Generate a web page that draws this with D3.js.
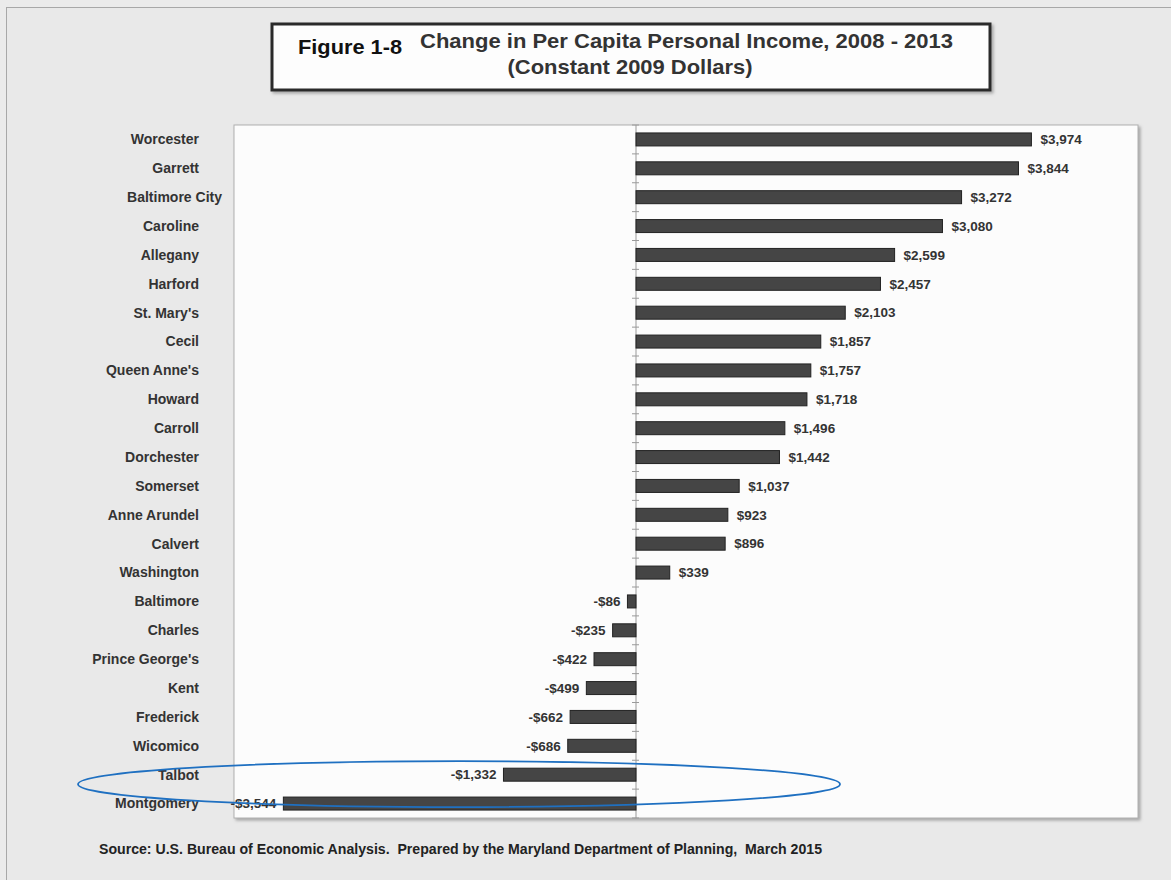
<!DOCTYPE html>
<html>
<head>
<meta charset="utf-8">
<script src="https://cdn.jsdelivr.net/npm/d3@7"></script>
<style>
  body { margin: 0; background: #ebebeb; }
  svg { display: block; }
</style>
</head>
<body>
<div id="chart"></div>
<script>
var counties = ["Worcester", "Garrett", "Baltimore City", "Caroline", "Allegany", "Harford",
  "St. Mary's", "Cecil", "Queen Anne's", "Howard", "Carroll", "Dorchester", "Somerset",
  "Anne Arundel", "Calvert", "Washington", "Baltimore", "Charles", "Prince George's",
  "Kent", "Frederick", "Wicomico", "Talbot", "Montgomery"];
var change = [3974, 3844, 3272, 3080, 2599, 2457, 2103, 1857, 1757, 1718, 1496, 1442, 1037,
  923, 896, 339, -86, -235, -422, -499, -662, -686, -1332, -3544];
var xDomain = [-4000, 5000];

var width = 1171,
    height = 880;

var plot = {left: 234, right: 1138, top: 125, bottom: 818};

var fmt = d3.format(",d");
function money(v) { return (v < 0 ? "-$" : "$") + fmt(Math.abs(v)); }

var svg = d3.select("#chart").append("svg")
    .attr("width", width)
    .attr("height", height);

var defs = svg.append("defs");
var f = defs.append("filter").attr("id", "shadow").attr("x", "-5%").attr("y", "-5%").attr("width", "110%").attr("height", "120%");
f.append("feDropShadow").attr("dx", 2).attr("dy", 2).attr("stdDeviation", 1.5).attr("flood-color", "#777").attr("flood-opacity", 0.6);

// page frame
svg.append("rect")
    .attr("x", 6.5).attr("y", 7.5)
    .attr("width", width).attr("height", height)
    .attr("fill", "#e9e9e9")
    .attr("stroke", "#a8a8a8");

// plot area
svg.append("rect")
    .attr("x", plot.left).attr("y", plot.top)
    .attr("width", plot.right - plot.left).attr("height", plot.bottom - plot.top)
    .attr("fill", "#fcfcfc")
    .attr("stroke", "#b0b0b0")
    .attr("filter", "url(#shadow)");

// value scale sits slightly inside the plot frame
var x = d3.scaleLinear()
    .domain(xDomain)
    .range([plot.left + 4, plot.right - 4.5]);

var y = d3.scaleBand()
    .domain(counties)
    .range([plot.top, plot.bottom])
    .paddingInner(0.55)
    .paddingOuter(0.275);

// zero axis with ticks between categories
var yAxis = svg.append("g")
    .attr("transform", "translate(" + x(0) + ",0)");
yAxis.append("line")
    .attr("y1", plot.top).attr("y2", plot.bottom)
    .attr("stroke", "#9a9a9a");
var step = y.step();
yAxis.selectAll(".tk")
    .data(d3.range(counties.length + 1))
  .enter().append("line")
    .attr("class", "tk")
    .attr("x1", -4).attr("x2", 3)
    .attr("y1", function(i) { return plot.top + i * step; })
    .attr("y2", function(i) { return plot.top + i * step; })
    .attr("stroke", "#9a9a9a");

// bars
svg.selectAll(".bar")
    .data(counties)
  .enter().append("rect")
    .attr("class", "bar")
    .attr("x", function(d, i) { return x(Math.min(0, change[i])); })
    .attr("y", function(d) { return y(d); })
    .attr("width", function(d, i) { return Math.abs(x(change[i]) - x(0)); })
    .attr("height", y.bandwidth())
    .attr("fill", "#454545")
    .attr("stroke", "#222")
    .attr("stroke-width", 1);

// value labels
svg.selectAll(".val")
    .data(counties)
  .enter().append("text")
    .attr("class", "val")
    .attr("x", function(d, i) { return change[i] < 0 ? x(change[i]) - 7 : x(change[i]) + 9; })
    .attr("y", function(d) { return y(d) + y.bandwidth() / 2; })
    .attr("dy", "0.35em")
    .attr("text-anchor", function(d, i) { return change[i] < 0 ? "end" : "start"; })
    .style("font", "bold 13.5px 'Liberation Sans', Arial, sans-serif")
    .attr("fill", "#333")
    .text(function(d, i) { return money(change[i]); });

// category labels (Baltimore City sits a little further right in the original)
svg.selectAll(".cat")
    .data(counties)
  .enter().append("text")
    .attr("class", "cat")
    .attr("x", function(d) { return d === "Baltimore City" ? 222 : 199; })
    .attr("y", function(d) { return y(d) + y.bandwidth() / 2; })
    .attr("dy", "0.35em")
    .attr("text-anchor", "end")
    .style("font", "bold 14px 'Liberation Sans', Arial, sans-serif")
    .attr("fill", "#333")
    .text(function(d) { return d; });

// title box
svg.append("rect")
    .attr("x", 272).attr("y", 24)
    .attr("width", 718).attr("height", 66)
    .attr("fill", "#fdfdfd")
    .attr("stroke", "#2a2a2a")
    .attr("stroke-width", 3)
    .attr("filter", "url(#shadow)");
svg.append("text")
    .attr("x", 298).attr("y", 54)
    .style("font", "bold 20px 'Liberation Sans', Arial, sans-serif")
    .attr("fill", "#111")
    .attr("textLength", 104)
    .attr("lengthAdjust", "spacingAndGlyphs")
    .text("Figure 1-8");
svg.append("text")
    .attr("x", 420).attr("y", 48)
    .style("font", "bold 21px 'Liberation Sans', Arial, sans-serif")
    .attr("fill", "#333")
    .attr("textLength", 533)
    .attr("lengthAdjust", "spacingAndGlyphs")
    .text("Change in Per Capita Personal Income, 2008 - 2013");
svg.append("text")
    .attr("x", 630).attr("y", 74)
    .attr("text-anchor", "middle")
    .style("font", "bold 21px 'Liberation Sans', Arial, sans-serif")
    .attr("fill", "#333")
    .attr("textLength", 245)
    .attr("lengthAdjust", "spacingAndGlyphs")
    .text("(Constant 2009 Dollars)");

// source note
svg.append("text")
    .attr("x", 99).attr("y", 854)
    .attr("xml:space", "preserve")
    .style("font", "bold 14px 'Liberation Sans', Arial, sans-serif")
    .attr("fill", "#222")
    .attr("textLength", 723)
    .attr("lengthAdjust", "spacingAndGlyphs")
    .text("Source: U.S. Bureau of Economic Analysis.  Prepared by the Maryland Department of Planning,  March 2015");

// hand-drawn highlight ellipse around the two largest declines
var midY = (y("Talbot") + y("Montgomery")) / 2 + y.bandwidth() / 2;
svg.append("ellipse")
    .attr("cx", 459)
    .attr("cy", midY - 5)
    .attr("rx", 381)
    .attr("ry", 23)
    .attr("fill", "none")
    .attr("stroke", "#1f70c1")
    .attr("stroke-width", 1.8);
</script>
</body>
</html>
